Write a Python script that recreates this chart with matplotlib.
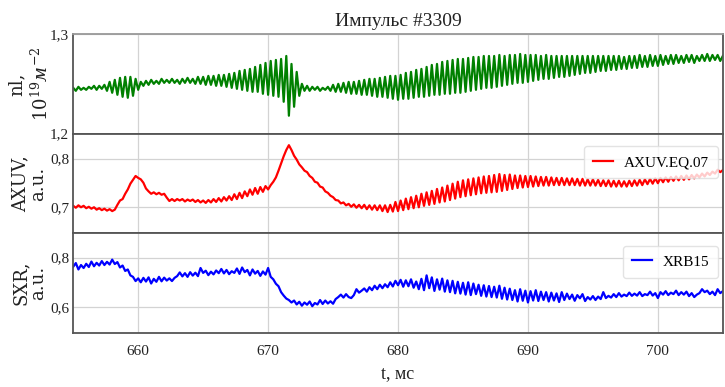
import numpy as np
import matplotlib
matplotlib.use("Agg")
import matplotlib.pyplot as plt
from matplotlib.ticker import FuncFormatter

# Time base of the sampled signals, ms
t_start, t_step = 655.0, 0.2

# Line-integrated density, 10^19 m^-2
nl_values = [
    1.246, 1.243, 1.247, 1.244, 1.246, 1.244, 1.247, 1.245, 1.248, 1.244,
    1.248, 1.245, 1.249, 1.243, 1.252, 1.241, 1.254, 1.239, 1.256, 1.237,
    1.257, 1.236, 1.257, 1.238, 1.255, 1.244, 1.252, 1.248, 1.253, 1.249,
    1.254, 1.250, 1.253, 1.250, 1.255, 1.251, 1.254, 1.251, 1.255, 1.251,
    1.254, 1.250, 1.255, 1.251, 1.256, 1.251, 1.255, 1.250, 1.257, 1.250,
    1.257, 1.249, 1.258, 1.249, 1.258, 1.248, 1.259, 1.248, 1.259, 1.247,
    1.260, 1.246, 1.261, 1.245, 1.263, 1.244, 1.264, 1.243, 1.265, 1.242,
    1.267, 1.242, 1.269, 1.240, 1.271, 1.239, 1.273, 1.238, 1.274, 1.237,
    1.275, 1.232, 1.278, 1.218, 1.270, 1.227, 1.262, 1.238, 1.250, 1.243,
    1.248, 1.243, 1.247, 1.244, 1.247, 1.243, 1.246, 1.244, 1.247, 1.243,
    1.249, 1.242, 1.250, 1.242, 1.251, 1.241, 1.252, 1.240, 1.252, 1.240,
    1.253, 1.239, 1.254, 1.239, 1.255, 1.238, 1.255, 1.237, 1.256, 1.237,
    1.257, 1.236, 1.258, 1.235, 1.258, 1.234, 1.259, 1.235, 1.261, 1.235,
    1.262, 1.236, 1.264, 1.237, 1.265, 1.237, 1.267, 1.238, 1.269, 1.239,
    1.270, 1.239, 1.272, 1.240, 1.273, 1.240, 1.274, 1.241, 1.275, 1.241,
    1.275, 1.242, 1.276, 1.243, 1.277, 1.244, 1.277, 1.245, 1.278, 1.246,
    1.278, 1.246, 1.278, 1.247, 1.279, 1.248, 1.278, 1.249, 1.279, 1.250,
    1.279, 1.251, 1.280, 1.251, 1.279, 1.252, 1.279, 1.253, 1.279, 1.254,
    1.278, 1.255, 1.279, 1.255, 1.278, 1.256, 1.278, 1.257, 1.278, 1.257,
    1.278, 1.258, 1.278, 1.259, 1.278, 1.260, 1.278, 1.261, 1.278, 1.261,
    1.278, 1.262, 1.278, 1.263, 1.278, 1.263, 1.278, 1.264, 1.278, 1.264,
    1.278, 1.265, 1.277, 1.265, 1.278, 1.266, 1.278, 1.266, 1.279, 1.267,
    1.278, 1.267, 1.279, 1.268, 1.278, 1.268, 1.279, 1.269, 1.278, 1.270,
    1.279, 1.270, 1.279, 1.271, 1.278, 1.271, 1.279, 1.272, 1.279, 1.271,
    1.278, 1.273, 1.279, 1.273, 1.280, 1.273, 1.279, 1.274, 1.279, 1.273,
    1.278,
]

# AXUV.EQ.07 signal, a.u.
axuv_values = [
    0.702, 0.698, 0.703, 0.699, 0.702, 0.697, 0.700, 0.696, 0.699, 0.694,
    0.697, 0.693, 0.696, 0.692, 0.695, 0.691, 0.694, 0.704, 0.713, 0.716,
    0.727, 0.736, 0.748, 0.756, 0.764, 0.760, 0.757, 0.750, 0.738, 0.732,
    0.727, 0.730, 0.726, 0.729, 0.725, 0.727, 0.719, 0.712, 0.716, 0.712,
    0.716, 0.713, 0.716, 0.711, 0.715, 0.712, 0.715, 0.710, 0.714, 0.709,
    0.713, 0.708, 0.714, 0.709, 0.716, 0.710, 0.718, 0.711, 0.720, 0.713,
    0.722, 0.714, 0.726, 0.716, 0.729, 0.718, 0.732, 0.722, 0.736, 0.725,
    0.739, 0.727, 0.741, 0.731, 0.743, 0.736, 0.745, 0.752, 0.761, 0.775,
    0.790, 0.805, 0.818, 0.828, 0.818, 0.806, 0.798, 0.788, 0.782, 0.775,
    0.772, 0.764, 0.760, 0.752, 0.750, 0.742, 0.740, 0.732, 0.729, 0.723,
    0.720, 0.714, 0.713, 0.707, 0.709, 0.703, 0.706, 0.700, 0.705, 0.698,
    0.704, 0.697, 0.704, 0.695, 0.703, 0.694, 0.703, 0.693, 0.703, 0.691,
    0.703, 0.689, 0.704, 0.690, 0.710, 0.691, 0.713, 0.693, 0.717, 0.695,
    0.720, 0.697, 0.723, 0.699, 0.727, 0.702, 0.730, 0.704, 0.733, 0.706,
    0.737, 0.709, 0.740, 0.711, 0.744, 0.714, 0.748, 0.717, 0.752, 0.720,
    0.755, 0.722, 0.757, 0.724, 0.759, 0.726, 0.761, 0.728, 0.763, 0.729,
    0.764, 0.730, 0.766, 0.731, 0.768, 0.733, 0.766, 0.735, 0.767, 0.737,
    0.765, 0.739, 0.765, 0.740, 0.764, 0.741, 0.764, 0.742, 0.763, 0.743,
    0.762, 0.744, 0.762, 0.744, 0.761, 0.745, 0.760, 0.745, 0.760, 0.745,
    0.759, 0.745, 0.759, 0.745, 0.758, 0.744, 0.758, 0.744, 0.757, 0.744,
    0.757, 0.744, 0.756, 0.743, 0.755, 0.743, 0.755, 0.742, 0.754, 0.742,
    0.754, 0.742, 0.753, 0.742, 0.754, 0.743, 0.755, 0.744, 0.756, 0.745,
    0.757, 0.747, 0.758, 0.748, 0.759, 0.749, 0.760, 0.751, 0.761, 0.752,
    0.762, 0.754, 0.763, 0.755, 0.764, 0.756, 0.765, 0.757, 0.766, 0.759,
    0.767, 0.761, 0.769, 0.763, 0.771, 0.766, 0.773, 0.769, 0.777, 0.772,
    0.776,
]

# XRB15 soft X-ray signal, a.u.
sxr_values = [
    0.763, 0.778, 0.752, 0.770, 0.758, 0.775, 0.762, 0.784, 0.765, 0.779,
    0.768, 0.786, 0.770, 0.783, 0.772, 0.792, 0.774, 0.782, 0.760, 0.768,
    0.746, 0.752, 0.728, 0.722, 0.705, 0.716, 0.700, 0.718, 0.703, 0.720,
    0.695, 0.714, 0.702, 0.722, 0.704, 0.719, 0.707, 0.716, 0.705, 0.718,
    0.725, 0.740, 0.724, 0.737, 0.722, 0.741, 0.727, 0.739, 0.725, 0.758,
    0.738, 0.747, 0.729, 0.743, 0.732, 0.748, 0.737, 0.754, 0.736, 0.750,
    0.733, 0.745, 0.738, 0.756, 0.734, 0.760, 0.741, 0.750, 0.728, 0.752,
    0.735, 0.746, 0.726, 0.744, 0.731, 0.758, 0.722, 0.712, 0.694, 0.684,
    0.660, 0.646, 0.634, 0.628, 0.618, 0.626, 0.610, 0.621, 0.605, 0.618,
    0.609, 0.622, 0.603, 0.616, 0.610, 0.628, 0.612, 0.626, 0.614, 0.623,
    0.613, 0.632, 0.640, 0.650, 0.638, 0.652, 0.640, 0.636, 0.648, 0.672,
    0.658, 0.666, 0.675, 0.662, 0.680, 0.668, 0.686, 0.672, 0.690, 0.676,
    0.692, 0.680, 0.700, 0.683, 0.706, 0.688, 0.710, 0.682, 0.708, 0.684,
    0.712, 0.678, 0.703, 0.672, 0.714, 0.668, 0.728, 0.676, 0.720, 0.665,
    0.712, 0.670, 0.715, 0.662, 0.708, 0.660, 0.706, 0.655, 0.702, 0.654,
    0.698, 0.650, 0.700, 0.648, 0.695, 0.652, 0.690, 0.645, 0.688, 0.642,
    0.685, 0.640, 0.682, 0.638, 0.686, 0.633, 0.678, 0.630, 0.674, 0.628,
    0.668, 0.622, 0.672, 0.625, 0.666, 0.618, 0.664, 0.626, 0.668, 0.624,
    0.662, 0.628, 0.660, 0.622, 0.658, 0.626, 0.655, 0.620, 0.660, 0.628,
    0.654, 0.632, 0.650, 0.625, 0.648, 0.635, 0.652, 0.624, 0.640, 0.630,
    0.644, 0.628, 0.642, 0.632, 0.660, 0.636, 0.645, 0.638, 0.652, 0.640,
    0.656, 0.642, 0.650, 0.644, 0.658, 0.645, 0.654, 0.646, 0.660, 0.644,
    0.652, 0.648, 0.662, 0.646, 0.656, 0.636, 0.660, 0.650, 0.664, 0.648,
    0.658, 0.652, 0.666, 0.648, 0.660, 0.650, 0.662, 0.644, 0.656, 0.640,
    0.650, 0.656, 0.672, 0.660, 0.666, 0.652, 0.662, 0.648, 0.672, 0.656,
    0.664,
]

title_text = "Импульс #3309"
xlabel_text = "t, мс"
ylabels = [r"nl," + "\n" + r"$10^{19}м^{-2}$", "AXUV,\na.u.", "SXR,\na.u."]
legend_labels = [None, "AXUV.EQ.07", "XRB15"]
line_colors = ["green", "red", "blue"]
x_ticks = [660, 670, 680, 690, 700]
y_ticks = [[1.2, 1.3], [0.7, 0.8], [0.6, 0.8]]
y_limits = [(1.2, 1.3), (0.645, 0.852), (0.495, 0.899)]
x_limits = (655, 705)

series = [nl_values, axuv_values, sxr_values]
t = t_start + t_step * np.arange(len(nl_values))

plt.rcParams["mathtext.fontset"] = "dejavuserif"
serif_narrow = ["Liberation Serif", "DejaVu Serif"]
comma = FuncFormatter(lambda v, pos: f"{v:.1f}".replace(".", ","))
label_spacing = [1.3, 0.95, 0.95]
label_x = [-0.033, -0.04, -0.04]

fig, axes = plt.subplots(3, 1, figsize=(7.25, 3.87), dpi=100, sharex=True)
fig.subplots_adjust(left=0.101, right=0.997, top=0.912, bottom=0.14, hspace=0)

for ax, values, color, label, ylab, yt, yl, ls, lx in zip(
        axes, series, line_colors, legend_labels, ylabels, y_ticks, y_limits,
        label_spacing, label_x):
    ax.plot(t, values, color=color, lw=1.6, label=label)
    ax.set_xlim(*x_limits)
    ax.set_ylim(*yl)
    ax.set_yticks(yt)
    ax.yaxis.set_major_formatter(comma)
    ax.set_xticks(x_ticks)
    ax.grid(True, color="#d3d3d3", lw=0.9)
    ax.set_axisbelow(True)
    ax.tick_params(axis="y", length=0, pad=3)
    ax.tick_params(axis="x", length=0, pad=9)
    for lab in ax.get_yticklabels() + ax.get_xticklabels():
        lab.set_fontfamily(serif_narrow)
        lab.set_fontsize(11)
        lab.set_color("#222222")
    for sp in ax.spines.values():
        sp.set_color("#555555")
        sp.set_linewidth(1.3)
    ax.set_ylabel(ylab, family="DejaVu Serif", fontsize=13,
                  linespacing=ls, color="#222222")
    ax.yaxis.set_label_coords(lx, 0.5)
    if label:
        leg = ax.legend(loc="upper right", bbox_to_anchor=(1.0, 0.92),
                        prop={"family": "Liberation Serif", "size": 11},
                        handlelength=1.3, handletextpad=0.7,
                        framealpha=0.8, edgecolor="#dddddd",
                        borderpad=0.6, borderaxespad=0.3)
        leg.get_frame().set_linewidth(1.0)

axes[0].spines["top"].set_color("#999999")
axes[0].set_title(title_text, family=serif_narrow,
                  fontsize=14, pad=6, color="#222222")
axes[2].set_xlabel(xlabel_text, family=serif_narrow,
                   fontsize=13, labelpad=5, color="#222222")

fig.savefig("out.png", dpi=100)
